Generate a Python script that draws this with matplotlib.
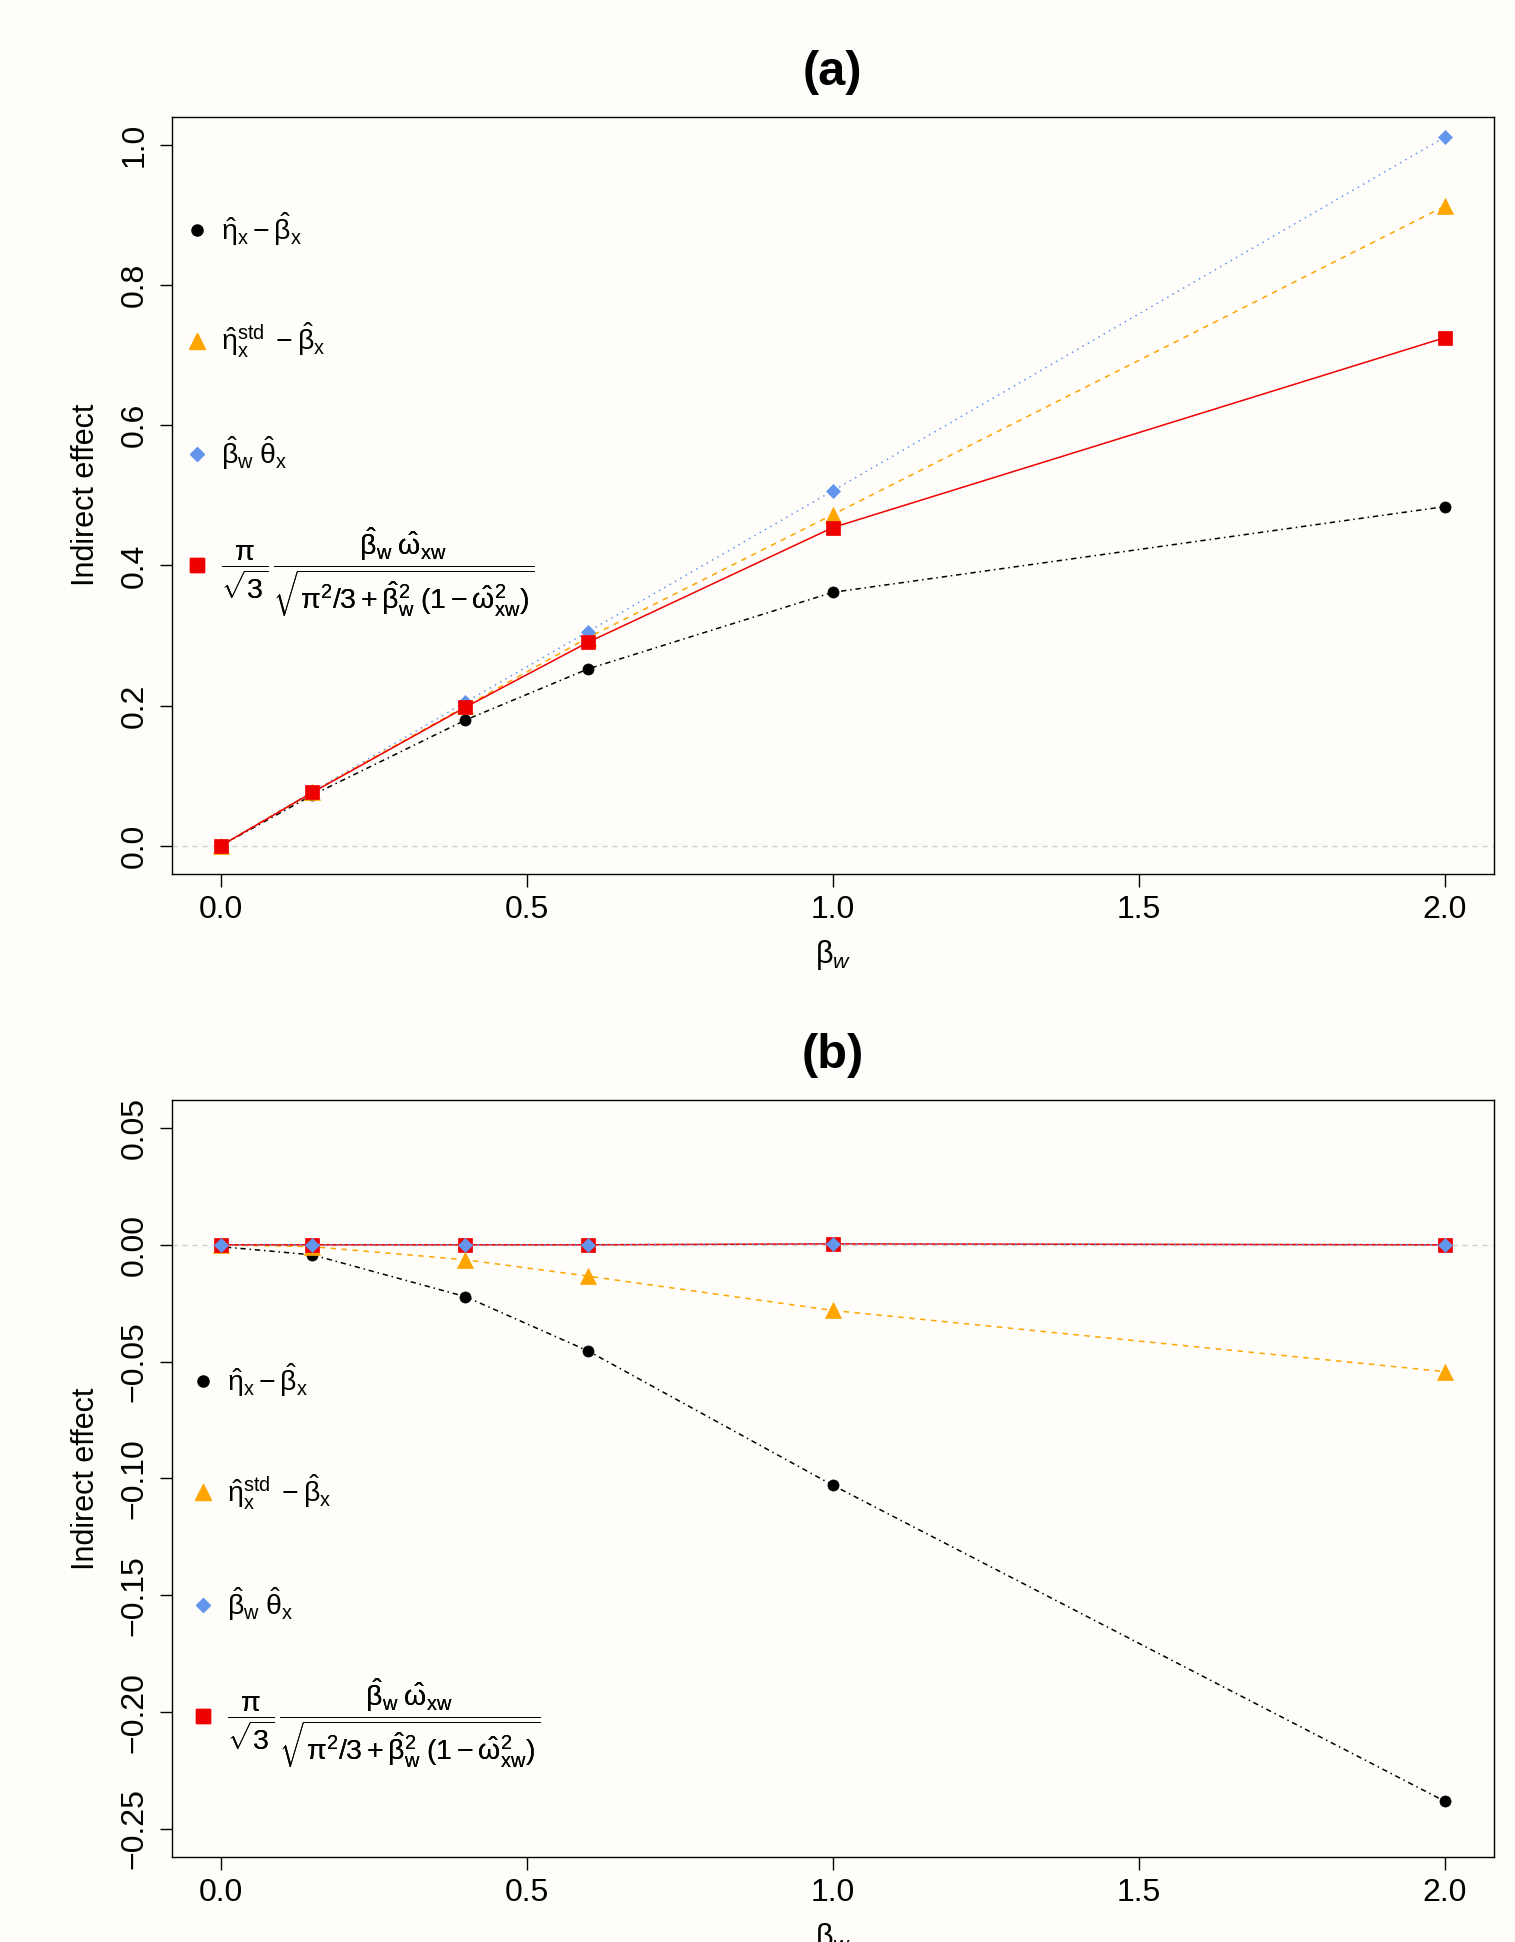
import matplotlib
matplotlib.use("Agg")
import matplotlib.pyplot as plt
from matplotlib.lines import Line2D

plt.rcParams['font.family'] = ['Liberation Sans', 'DejaVu Sans']
plt.rcParams['mathtext.fontset'] = 'custom'
plt.rcParams['mathtext.rm'] = 'Liberation Sans'
plt.rcParams['mathtext.it'] = 'Liberation Sans:italic'
plt.rcParams['mathtext.bf'] = 'Liberation Sans:bold'
plt.rcParams['mathtext.sf'] = 'Liberation Sans'

# beta_w values on the x axis
beta_w = [0.0, 0.15, 0.4, 0.6, 1.0, 2.0]

# panel (a)
a_diff = [0.0, 0.0725, 0.1795, 0.2523, 0.3616, 0.4839]
a_std = [0.0, 0.0770, 0.1990, 0.2970, 0.4725, 0.9125]
a_prod = [0.0, 0.0775, 0.2050, 0.3055, 0.5065, 1.0110]
a_adj = [0.0, 0.0762, 0.1978, 0.2903, 0.4540, 0.7249]

# panel (b)
b_diff = [-0.0008, -0.0043, -0.0222, -0.0454, -0.1029, -0.2382]
b_std = [0.0, -0.0008, -0.0064, -0.0134, -0.0281, -0.0543]
b_prod = [0.0, 0.0, 0.0, 0.0, 0.0004, 0.0]
b_adj = [0.0, 0.0, 0.0, 0.0, 0.0004, 0.0]

keys = ['diff', 'std', 'prod', 'adj']
labels = [
    r'$\mathrm{\hat{\eta}_x - \hat{\beta}_x}$',
    r'$\mathrm{\hat{\eta}_x^{std}\; - \hat{\beta}_x}$',
    r'$\mathrm{\hat{\beta}_w\;\hat{\theta}_x}$',
    r'$\mathrm{\dfrac{\pi}{\sqrt{3}}\,\dfrac{\hat{\beta}_w\;\hat{\omega}_{xw}}'
    r'{\sqrt{\pi^2/3+\hat{\beta}_w^2\;(1-\hat{\omega}_{xw}^2)}}}$',
]

bg = '#FEFDF9'
orange = '#FFA500'
blue = '#6495ED'
red = '#EE0000'

styles = {
    'diff': dict(color='black', marker='o', ms=8, dashes=(1, 2.5, 3.5, 2.5)),
    'std': dict(color=orange, marker='^', ms=12, dashes=(3.6, 3.6)),
    'prod': dict(color=blue, marker='D', ms=6.8, dashes=(1, 3)),
    'adj': dict(color=red, marker='s', ms=9.5, ls='-'),
}


def draw(ax, series, order):
    ax.axhline(0, color='#D0D0D0', lw=1, dashes=(3.6, 3.6), zorder=1)
    for z, key in enumerate(order):
        st = dict(styles[key])
        ax.plot(beta_w, series[key], lw=1.1, mew=0.5, mec=st['color'],
                zorder=2 + z, **st)


def legend(ax, x0, y0, step):
    # one legend per row so that the rows are evenly spaced like R's legend()
    for i, (key, lab) in enumerate(zip(keys, labels)):
        st = styles[key]
        h = Line2D([], [], ls='none', marker=st['marker'], ms=st['ms'],
                   color=st['color'])
        y = y0 - i * step
        if key == 'adj':
            y -= 0.01  # the tall fraction sits a little lower
        leg = ax.legend([h], [lab], loc='center left',
                        bbox_to_anchor=(x0, y), frameon=False,
                        fontsize=20.5, handlelength=1.0, handletextpad=0.35,
                        borderpad=0, borderaxespad=0)
        ax.add_artist(leg)


def style(ax, yticks, fmt, ylim):
    ax.set_facecolor(bg)
    ax.set_xlim(-0.08, 2.08)
    ax.set_ylim(*ylim)
    ax.set_xticks([0.0, 0.5, 1.0, 1.5, 2.0])
    ax.set_xticklabels(['0.0', '0.5', '1.0', '1.5', '2.0'])
    ax.set_yticks(yticks)
    ax.set_yticklabels([(fmt % v).replace('-', '\u2212') for v in yticks])
    ax.tick_params(length=9, width=1, labelsize=23, direction='out')
    ax.tick_params(axis='x', pad=6.5)
    ax.tick_params(axis='y', pad=7)
    plt.setp(ax.get_yticklabels(), rotation=90, va='center')
    for s in ax.spines.values():
        s.set_linewidth(1.0)
    ax.set_ylabel('Indirect effect', fontsize=22)
    ax.yaxis.set_label_coords(-0.0535, 0.5)
    ax.set_xlabel(r'$\mathrm{\beta}_w$', fontsize=22)
    ax.xaxis.set_label_coords(0.5, -0.0845)


fig = plt.figure(figsize=(15.15, 19.42), dpi=100, facecolor=bg)
ax1 = fig.add_axes([0.1133, 0.5500, 0.8728, 0.3899])
ax2 = fig.add_axes([0.1133, 0.0438, 0.8728, 0.3898])

draw(ax1, {'diff': a_diff, 'std': a_std, 'prod': a_prod, 'adj': a_adj},
     ['diff', 'std', 'prod', 'adj'])
style(ax1, [0.0, 0.2, 0.4, 0.6, 0.8, 1.0], '%.1f', (-0.04, 1.04))
ax1.set_title('(a)', fontsize=35, fontweight='bold', pad=23)
legend(ax1, 0.0083, 0.852, 0.148)

draw(ax2, {'diff': b_diff, 'std': b_std, 'prod': b_prod, 'adj': b_adj},
     ['diff', 'std', 'adj', 'prod'])
style(ax2, [0.05, 0.0, -0.05, -0.10, -0.15, -0.20, -0.25], '%.2f',
      (-0.262, 0.062))
ax2.set_title('(b)', fontsize=35, fontweight='bold', pad=23)
legend(ax2, 0.0129, 0.630, 0.148)

fig.savefig('out.png', dpi=100, facecolor=bg)
